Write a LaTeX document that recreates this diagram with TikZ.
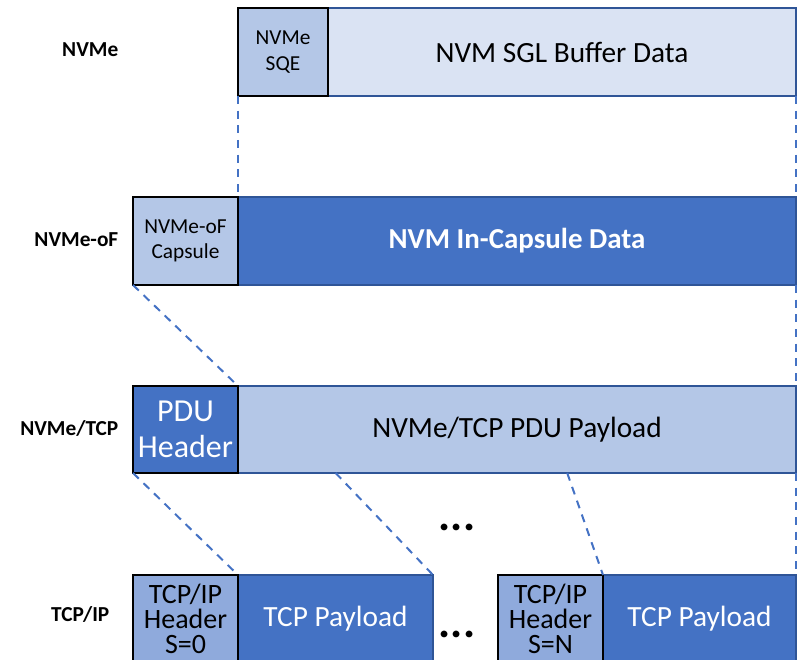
\documentclass[tikz,border=0pt]{standalone}
\usepackage{fontspec}
\setmainfont{Carlito}
\usetikzlibrary{calc}
\definecolor{cLight}{HTML}{DAE3F3}
\definecolor{cMid}{HTML}{B4C7E7}
\definecolor{cHdr}{HTML}{8FAADC}
\definecolor{cDark}{HTML}{4472C4}
\definecolor{cEdge}{HTML}{2F5597}
\begin{document}
\begin{tikzpicture}[x=0.75pt,y=-0.75pt,
  blk/.style={draw=cEdge,line width=1.2pt,inner sep=0pt,outer sep=0pt,align=center,anchor=north west},
  hdr/.style={blk,draw=black,line width=1.8pt},
  lbl/.style={font=\bfseries\fontsize{16}{18}\selectfont,anchor=east},
  dots/.style={font=\bfseries\fontsize{34}{36}\selectfont,anchor=base,inner sep=0pt},
  cut/.style={draw=cDark,dashed,line width=1.5pt,dash pattern=on 6pt off 5pt}]
\useasboundingbox (0,0) rectangle (797,660);
% NVMe row
\node[blk,fill=cLight,minimum width=468*0.75pt,minimum height=88*0.75pt,font=\fontsize{22}{26}\selectfont] (buf) at (328,8) {NVM SGL Buffer Data};
\node[hdr,fill=cMid,minimum width=90*0.75pt,minimum height=88*0.75pt,font=\fontsize{16}{19}\selectfont] (sqe) at (238,8) {NVMe\\SQE};
% NVMe-oF row
\node[blk,fill=cDark,text=white,minimum width=558*0.75pt,minimum height=88*0.75pt,font=\bfseries\fontsize{21.7}{26}\selectfont] (icd) at (238,197) {NVM In-Capsule Data};
\node[hdr,fill=cMid,minimum width=105*0.75pt,minimum height=88*0.75pt,font=\fontsize{16}{19}\selectfont] (cap) at (133,197) {NVMe-oF\\Capsule};
% NVMe/TCP row
\node[blk,fill=cMid,minimum width=558*0.75pt,minimum height=87*0.75pt,font=\fontsize{22}{26}\selectfont] (pay) at (238,386) {NVMe/TCP PDU Payload};
\node[hdr,fill=cDark,text=white,minimum width=105*0.75pt,minimum height=87*0.75pt,font=\fontsize{24}{27}\selectfont] (pdu) at (133,386) {PDU\\Header};
% TCP/IP row
\node[blk,fill=cDark,text=white,minimum width=195*0.75pt,minimum height=88*0.75pt,font=\fontsize{22}{26}\selectfont] (tp0) at (238,575) {TCP Payload};
\node[hdr,fill=cHdr,minimum width=105*0.75pt,minimum height=88*0.75pt,font=\fontsize{21}{19}\selectfont] (th0) at (133,575) {TCP/IP\\Header\\S=0};
\node[blk,fill=cDark,text=white,minimum width=193*0.75pt,minimum height=88*0.75pt,font=\fontsize{22}{26}\selectfont] (tpn) at (603,575) {TCP Payload};
\node[hdr,fill=cHdr,minimum width=105*0.75pt,minimum height=88*0.75pt,font=\fontsize{21}{19}\selectfont] (thn) at (498,575) {TCP/IP\\Header\\S=N};
% row labels
\node[lbl] (l1) at (123,50) {NVMe};
\node[lbl] (l2) at (123,240) {NVMe-oF};
\node[lbl] (l3) at (123,428) {NVMe/TCP};
\node[lbl] (l4) at (114,614) {TCP/IP};
% ellipses
\node[dots] (d1) at (457,530) {...};
\node[dots] (d2) at (457,637) {...};
% connectors
\coordinate (m1) at ($(pay.south west)!0.175!(pay.south east)$);
\coordinate (m2) at ($(pay.south west)!0.59!(pay.south east)$);
\draw[cut] (sqe.south west) -- (icd.north west);
\draw[cut] (buf.south east) -- (icd.north east);
\draw[cut] (cap.south west) -- (pdu.north east);
\draw[cut] (icd.south east) -- (pay.north east);
\draw[cut] (pdu.south west) -- (th0.north east);
\draw[cut] (m1) -- (tp0.north east);
\draw[cut] (m2) -- (thn.north east);
\draw[cut] (pay.south east) -- (tpn.north east);
\end{tikzpicture}
\end{document}
